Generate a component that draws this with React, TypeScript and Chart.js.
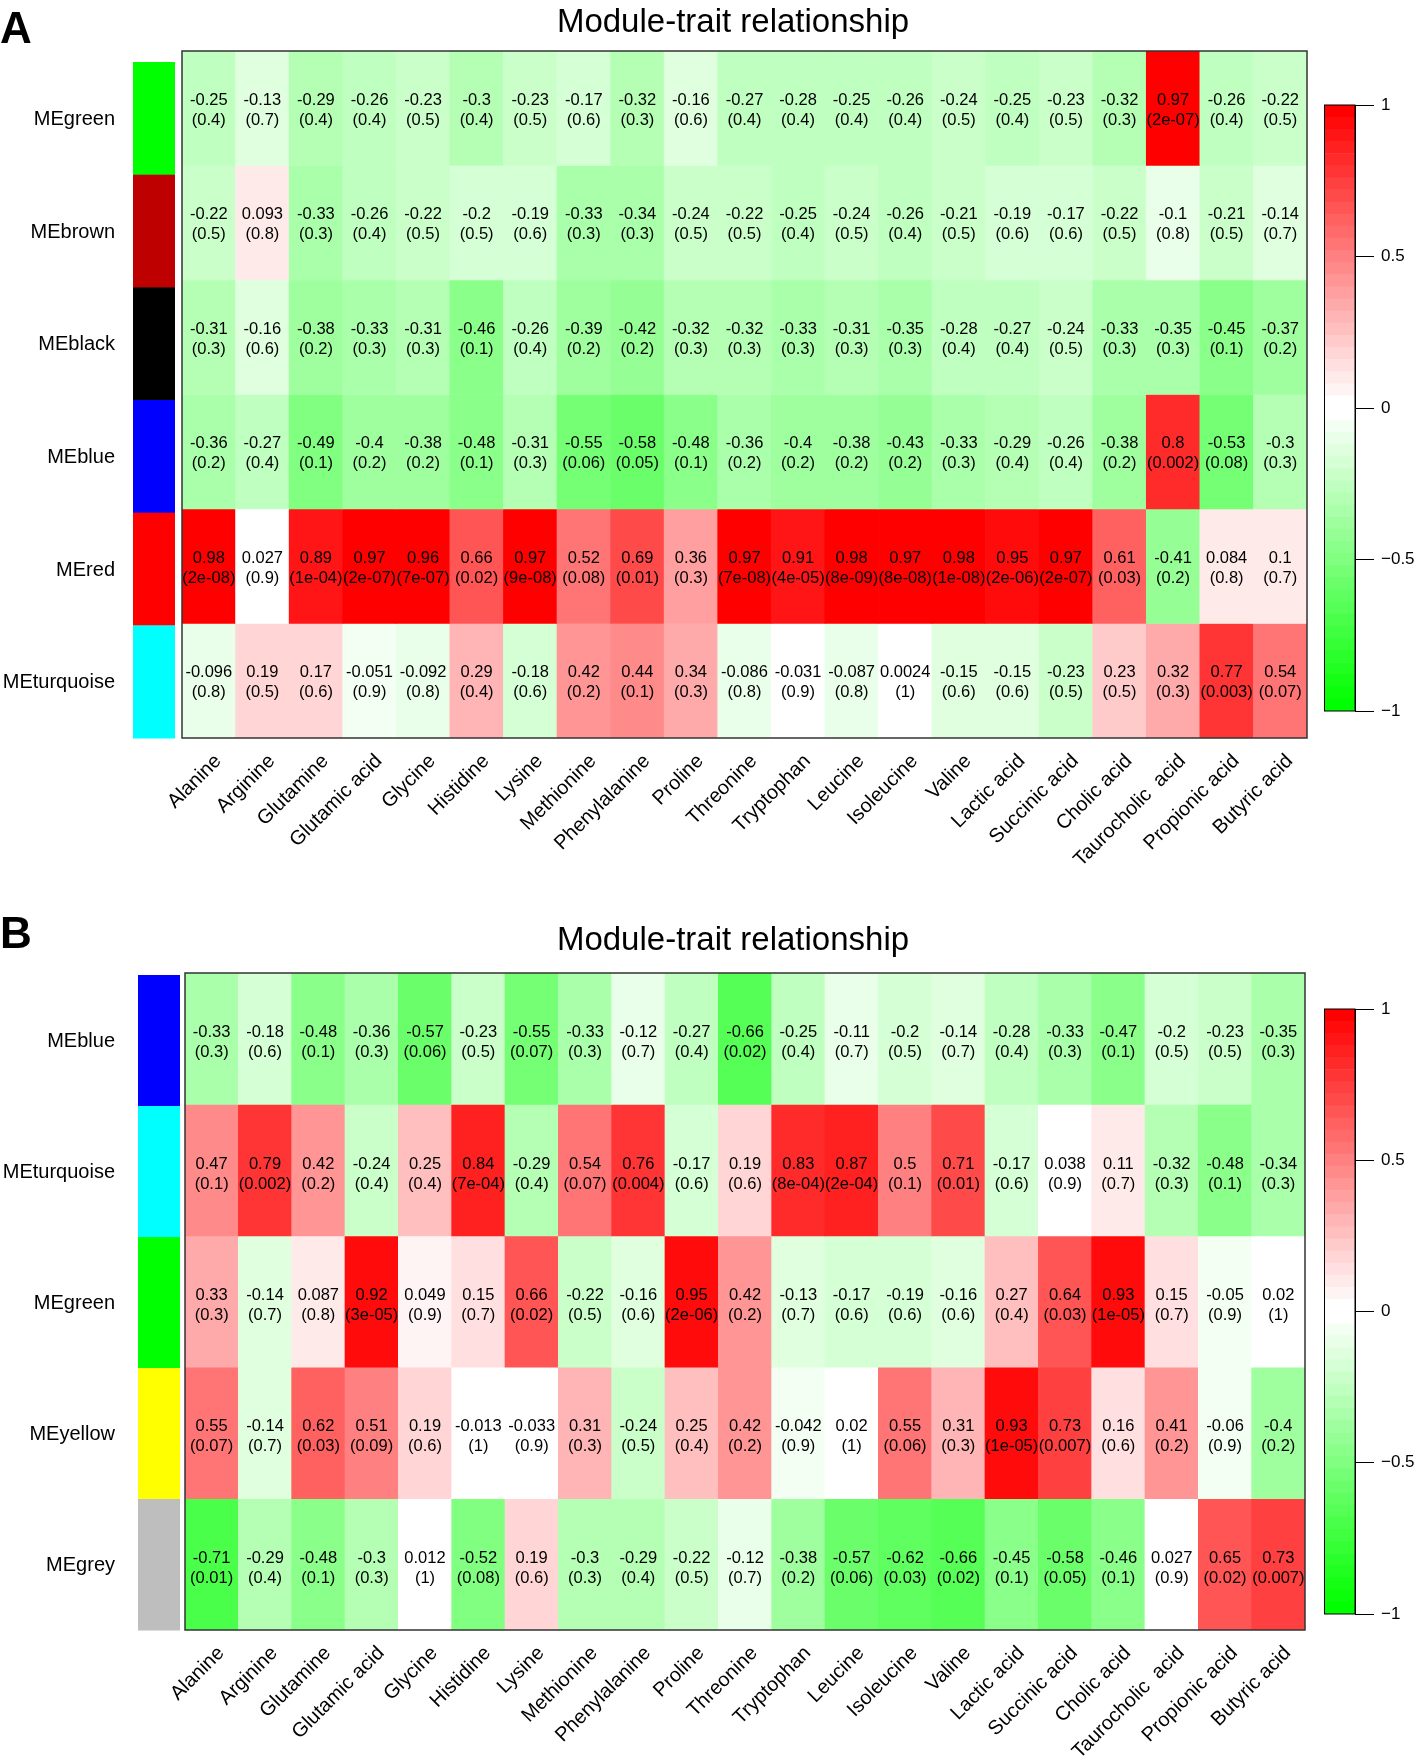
import React, { useEffect, useRef } from "react";
import { Chart, registerables } from "chart.js";

Chart.register(...registerables);

const FONT = "'Liberation Sans', Arial, Helvetica, sans-serif";

// ---------- data ----------
const traits = [
  "Alanine", "Arginine", "Glutamine", "Glutamic acid", "Glycine", "Histidine", "Lysine",
  "Methionine", "Phenylalanine", "Proline", "Threonine", "Tryptophan", "Leucine", "Isoleucine",
  "Valine", "Lactic acid", "Succinic acid", "Cholic acid", "Taurocholic  acid", "Propionic acid",
  "Butyric acid",
];

const titleText = "Module-trait relationship";
const colorbarTicks = [1, 0.5, 0, -0.5, -1];

// Panel A
const modulesA = ["MEgreen", "MEbrown", "MEblack", "MEblue", "MEred", "MEturquoise"];
const moduleColorsA = ["#00FF00", "#BE0000", "#000000", "#0000FF", "#FF0000", "#00FFFF"];

const corA_green = [-0.25, -0.13, -0.29, -0.26, -0.23, -0.3, -0.23, -0.17, -0.32, -0.16, -0.27, -0.28, -0.25, -0.26, -0.24, -0.25, -0.23, -0.32, 0.97, -0.26, -0.22];
const pA_green = [0.4, 0.7, 0.4, 0.4, 0.5, 0.4, 0.5, 0.6, 0.3, 0.6, 0.4, 0.4, 0.4, 0.4, 0.5, 0.4, 0.5, 0.3, 2e-07, 0.4, 0.5];
const corA_brown = [-0.22, 0.093, -0.33, -0.26, -0.22, -0.2, -0.19, -0.33, -0.34, -0.24, -0.22, -0.25, -0.24, -0.26, -0.21, -0.19, -0.17, -0.22, -0.1, -0.21, -0.14];
const pA_brown = [0.5, 0.8, 0.3, 0.4, 0.5, 0.5, 0.6, 0.3, 0.3, 0.5, 0.5, 0.4, 0.5, 0.4, 0.5, 0.6, 0.6, 0.5, 0.8, 0.5, 0.7];
const corA_black = [-0.31, -0.16, -0.38, -0.33, -0.31, -0.46, -0.26, -0.39, -0.42, -0.32, -0.32, -0.33, -0.31, -0.35, -0.28, -0.27, -0.24, -0.33, -0.35, -0.45, -0.37];
const pA_black = [0.3, 0.6, 0.2, 0.3, 0.3, 0.1, 0.4, 0.2, 0.2, 0.3, 0.3, 0.3, 0.3, 0.3, 0.4, 0.4, 0.5, 0.3, 0.3, 0.1, 0.2];
const corA_blue = [-0.36, -0.27, -0.49, -0.4, -0.38, -0.48, -0.31, -0.55, -0.58, -0.48, -0.36, -0.4, -0.38, -0.43, -0.33, -0.29, -0.26, -0.38, 0.8, -0.53, -0.3];
const pA_blue = [0.2, 0.4, 0.1, 0.2, 0.2, 0.1, 0.3, 0.06, 0.05, 0.1, 0.2, 0.2, 0.2, 0.2, 0.3, 0.4, 0.4, 0.2, 0.002, 0.08, 0.3];
const corA_red = [0.98, 0.027, 0.89, 0.97, 0.96, 0.66, 0.97, 0.52, 0.69, 0.36, 0.97, 0.91, 0.98, 0.97, 0.98, 0.95, 0.97, 0.61, -0.41, 0.084, 0.1];
const pA_red = [2e-08, 0.9, 1e-04, 2e-07, 7e-07, 0.02, 9e-08, 0.08, 0.01, 0.3, 7e-08, 4e-05, 8e-09, 8e-08, 1e-08, 2e-06, 2e-07, 0.03, 0.2, 0.8, 0.7];
const corA_turquoise = [-0.096, 0.19, 0.17, -0.051, -0.092, 0.29, -0.18, 0.42, 0.44, 0.34, -0.086, -0.031, -0.087, 0.0024, -0.15, -0.15, -0.23, 0.23, 0.32, 0.77, 0.54];
const pA_turquoise = [0.8, 0.5, 0.6, 0.9, 0.8, 0.4, 0.6, 0.2, 0.1, 0.3, 0.8, 0.9, 0.8, 1, 0.6, 0.6, 0.5, 0.5, 0.3, 0.003, 0.07];

// Panel B
const modulesB = ["MEblue", "MEturquoise", "MEgreen", "MEyellow", "MEgrey"];
const moduleColorsB = ["#0000FF", "#00FFFF", "#00FF00", "#FFFF00", "#BEBEBE"];

const corB_blue = [-0.33, -0.18, -0.48, -0.36, -0.57, -0.23, -0.55, -0.33, -0.12, -0.27, -0.66, -0.25, -0.11, -0.2, -0.14, -0.28, -0.33, -0.47, -0.2, -0.23, -0.35];
const pB_blue = [0.3, 0.6, 0.1, 0.3, 0.06, 0.5, 0.07, 0.3, 0.7, 0.4, 0.02, 0.4, 0.7, 0.5, 0.7, 0.4, 0.3, 0.1, 0.5, 0.5, 0.3];
const corB_turquoise = [0.47, 0.79, 0.42, -0.24, 0.25, 0.84, -0.29, 0.54, 0.76, -0.17, 0.19, 0.83, 0.87, 0.5, 0.71, -0.17, 0.038, 0.11, -0.32, -0.48, -0.34];
const pB_turquoise = [0.1, 0.002, 0.2, 0.4, 0.4, 7e-04, 0.4, 0.07, 0.004, 0.6, 0.6, 8e-04, 2e-04, 0.1, 0.01, 0.6, 0.9, 0.7, 0.3, 0.1, 0.3];
const corB_green = [0.33, -0.14, 0.087, 0.92, 0.049, 0.15, 0.66, -0.22, -0.16, 0.95, 0.42, -0.13, -0.17, -0.19, -0.16, 0.27, 0.64, 0.93, 0.15, -0.05, 0.02];
const pB_green = [0.3, 0.7, 0.8, 3e-05, 0.9, 0.7, 0.02, 0.5, 0.6, 2e-06, 0.2, 0.7, 0.6, 0.6, 0.6, 0.4, 0.03, 1e-05, 0.7, 0.9, 1];
const corB_yellow = [0.55, -0.14, 0.62, 0.51, 0.19, -0.013, -0.033, 0.31, -0.24, 0.25, 0.42, -0.042, 0.02, 0.55, 0.31, 0.93, 0.73, 0.16, 0.41, -0.06, -0.4];
const pB_yellow = [0.07, 0.7, 0.03, 0.09, 0.6, 1, 0.9, 0.3, 0.5, 0.4, 0.2, 0.9, 1, 0.06, 0.3, 1e-05, 0.007, 0.6, 0.2, 0.9, 0.2];
const corB_grey = [-0.71, -0.29, -0.48, -0.3, 0.012, -0.52, 0.19, -0.3, -0.29, -0.22, -0.12, -0.38, -0.57, -0.62, -0.66, -0.45, -0.58, -0.46, 0.027, 0.65, 0.73];
const pB_grey = [0.01, 0.4, 0.1, 0.3, 1, 0.08, 0.6, 0.3, 0.4, 0.5, 0.7, 0.2, 0.06, 0.03, 0.02, 0.1, 0.05, 0.1, 0.9, 0.02, 0.007];

// ---------- palette (greenWhiteRed, 50 colours over [-1, 1]) ----------
const NCOL = 50;
const HALF = 25;
function paletteColor(i: number): string {
  if (i < HALF) {
    const t = i / (HALF - 1);
    const c = Math.round(255 * t);
    return `rgb(${c},255,${c})`;
  }
  const t = (i - HALF) / (HALF - 1);
  const c = Math.round(255 * (1 - t));
  return `rgb(255,${c},${c})`;
}
function corColor(v: number): string {
  let bin = Math.floor(((v + 1) / 2) * NCOL);
  if (bin < 0) bin = 0;
  if (bin > NCOL - 1) bin = NCOL - 1;
  return paletteColor(bin);
}
function fmtCor(v: number): string {
  return String(v);
}
function fmtP(p: number): string {
  if (p < 0.001) {
    const s = p.toExponential(0); // e.g. 2e-7
    const m = s.match(/^(\d)e([+-])(\d+)$/);
    if (m) return `${m[1]}e${m[2]}${m[3].padStart(2, "0")}`;
    return s;
  }
  return String(p);
}
function fmtTick(v: number): string {
  return v < 0 ? "\u2212" + String(-v) : String(v);
}

type Row = { name: string; color: string; cor: number[]; p: number[] };

const rowsA: Row[] = [
  { name: modulesA[0], color: moduleColorsA[0], cor: corA_green, p: pA_green },
  { name: modulesA[1], color: moduleColorsA[1], cor: corA_brown, p: pA_brown },
  { name: modulesA[2], color: moduleColorsA[2], cor: corA_black, p: pA_black },
  { name: modulesA[3], color: moduleColorsA[3], cor: corA_blue, p: pA_blue },
  { name: modulesA[4], color: moduleColorsA[4], cor: corA_red, p: pA_red },
  { name: modulesA[5], color: moduleColorsA[5], cor: corA_turquoise, p: pA_turquoise },
];
const rowsB: Row[] = [
  { name: modulesB[0], color: moduleColorsB[0], cor: corB_blue, p: pB_blue },
  { name: modulesB[1], color: moduleColorsB[1], cor: corB_turquoise, p: pB_turquoise },
  { name: modulesB[2], color: moduleColorsB[2], cor: corB_green, p: pB_green },
  { name: modulesB[3], color: moduleColorsB[3], cor: corB_yellow, p: pB_yellow },
  { name: modulesB[4], color: moduleColorsB[4], cor: corB_grey, p: pB_grey },
];

type PanelCfg = {
  letter: string;
  rows: Row[];
  height: number;
  padding: { left: number; right: number; top: number; bottom: number };
  letterBaseline: number;
  titleBaseline: number;
  titleX: number;
  barX: [number, number];
  barTopOffset: number;
  labelRight: number;
  line1: number;
  line2: number;
};

const panelA: PanelCfg = {
  letter: "A",
  rows: rowsA,
  height: 880,
  padding: { left: 182, right: 115, top: 51, bottom: 142 },
  letterBaseline: 43,
  titleBaseline: 32,
  titleX: 733,
  barX: [133, 175],
  barTopOffset: 11,
  labelRight: 115,
  line1: -8,
  line2: 12,
};
const panelB: PanelCfg = {
  letter: "B",
  rows: rowsB,
  height: 884,
  padding: { left: 185, right: 117, top: 93, bottom: 134 },
  letterBaseline: 68,
  titleBaseline: 70,
  titleX: 733,
  barX: [138, 180],
  barTopOffset: 2,
  labelRight: 115,
  line1: -6,
  line2: 14,
};

function makeHeatmap(canvas: HTMLCanvasElement, cfg: PanelCfg): Chart {
  const overlay = {
    id: "heatOverlay",
    afterDatasetsDraw(chart: any) {
      const { ctx, chartArea } = chart;
      const x = chart.scales.x;
      const y = chart.scales.y;
      ctx.save();
      // border
      ctx.strokeStyle = "#333";
      ctx.lineWidth = 1.5;
      ctx.strokeRect(chartArea.left, chartArea.top, chartArea.right - chartArea.left, chartArea.bottom - chartArea.top);

      // cell texts
      ctx.fillStyle = "#000";
      ctx.font = `16.5px ${FONT}`;
      ctx.textAlign = "center";
      ctx.textBaseline = "middle";
      cfg.rows.forEach((row, r) => {
        const yc = y.getPixelForValue(r + 0.5);
        row.cor.forEach((v, c) => {
          const xc = x.getPixelForValue(c);
          ctx.fillText(fmtCor(v), xc, yc + cfg.line1);
          ctx.fillText("(" + fmtP(row.p[c]) + ")", xc, yc + cfg.line2);
        });
      });

      // module colour bars and labels
      const barTop = chartArea.top + cfg.barTopOffset;
      const barBottom = chartArea.bottom;
      const segH = (barBottom - barTop) / cfg.rows.length;
      ctx.font = `20px ${FONT}`;
      ctx.textAlign = "right";
      cfg.rows.forEach((row, r) => {
        const t = barTop + r * segH;
        ctx.fillStyle = row.color;
        ctx.fillRect(cfg.barX[0], t, cfg.barX[1] - cfg.barX[0], segH + 0.5);
        ctx.fillStyle = "#000";
        ctx.fillText(row.name, cfg.labelRight, t + segH / 2 + 1);
      });

      // x labels rotated 45°
      ctx.font = `20px ${FONT}`;
      ctx.textAlign = "right";
      ctx.textBaseline = "middle";
      traits.forEach((t, c) => {
        const xc = x.getPixelForValue(c);
        ctx.save();
        ctx.translate(xc + 9.5, chartArea.bottom + 20);
        ctx.rotate(-Math.PI / 4);
        ctx.fillText(t, 0, 0);
        ctx.restore();
      });

      // title
      ctx.textAlign = "center";
      ctx.textBaseline = "alphabetic";
      ctx.font = `33px ${FONT}`;
      ctx.fillText(titleText, cfg.titleX, cfg.titleBaseline);

      // panel letter
      ctx.textAlign = "left";
      ctx.font = `bold 44px ${FONT}`;
      ctx.fillText(cfg.letter, 0, cfg.letterBaseline);
      ctx.restore();
    },
  };

  return new Chart(canvas, {
    type: "bar",
    data: {
      labels: traits,
      datasets: cfg.rows.map((row, r) => ({
        label: row.name,
        data: row.cor.map(() => [r, r + 1]) as any,
        backgroundColor: row.cor.map(corColor),
        borderWidth: 0,
        barPercentage: 1,
        categoryPercentage: 1,
        grouped: false,
      })),
    },
    options: {
      responsive: false,
      maintainAspectRatio: false,
      animation: false,
      events: [],
      layout: { padding: cfg.padding },
      plugins: { legend: { display: false }, tooltip: { enabled: false }, title: { display: false } },
      scales: {
        x: { type: "category", display: false, offset: true, grid: { display: false } },
        y: { type: "linear", display: false, min: 0, max: cfg.rows.length, reverse: true },
      },
    } as any,
    plugins: [overlay],
  });
}

function makeColorbar(canvas: HTMLCanvasElement): Chart {
  const bands = Array.from({ length: NCOL }, (_, i) => i);
  const boxPlugin = {
    id: "cbBox",
    afterDatasetsDraw(chart: any) {
      const { ctx, chartArea } = chart;
      ctx.save();
      ctx.strokeStyle = "#000";
      ctx.lineWidth = 1;
      ctx.strokeRect(chartArea.left + 0.5, chartArea.top, chartArea.right - chartArea.left - 0.5, chartArea.bottom - chartArea.top);
      ctx.restore();
    },
  };
  return new Chart(canvas, {
    type: "bar",
    data: {
      labels: [""],
      datasets: bands.map((i) => ({
        data: [[-1 + (2 * i) / NCOL, -1 + (2 * (i + 1)) / NCOL]] as any,
        backgroundColor: paletteColor(i),
        borderWidth: 0,
        barPercentage: 1,
        categoryPercentage: 1,
        grouped: false,
      })),
    },
    options: {
      responsive: false,
      maintainAspectRatio: false,
      animation: false,
      events: [],
      layout: { padding: { left: 20, right: 0, top: 20, bottom: 20 } },
      plugins: { legend: { display: false }, tooltip: { enabled: false } },
      scales: {
        x: { display: false, offset: true },
        y: {
          type: "linear",
          position: "right",
          min: -1,
          max: 1,
          afterBuildTicks: (s: any) => {
            s.ticks = colorbarTicks.map((v) => ({ value: v }));
          },
          afterFit: (s: any) => {
            s.width = 67;
          },
          ticks: {
            callback: (v: any) => fmtTick(Number(v)),
            font: { size: 17, family: FONT },
            color: "#000",
            padding: 7,
          },
          grid: { drawOnChartArea: false, drawTicks: true, tickLength: 19, color: "#000", lineWidth: 1 },
          border: { display: true, color: "#000", width: 1 },
        },
      },
    } as any,
    plugins: [boxPlugin],
  });
}

export default function App() {
  const aRef = useRef<HTMLCanvasElement>(null);
  const bRef = useRef<HTMLCanvasElement>(null);
  const cbARef = useRef<HTMLCanvasElement>(null);
  const cbBRef = useRef<HTMLCanvasElement>(null);

  useEffect(() => {
    const charts: Chart[] = [];
    if (aRef.current) charts.push(makeHeatmap(aRef.current, panelA));
    if (bRef.current) charts.push(makeHeatmap(bRef.current, panelB));
    if (cbARef.current) charts.push(makeColorbar(cbARef.current));
    if (cbBRef.current) charts.push(makeColorbar(cbBRef.current));
    return () => charts.forEach((c) => c.destroy());
  }, []);

  return (
    <div style={{ position: "absolute", left: 0, top: 0, width: 1422, height: 1764, background: "#fff", overflow: "hidden" }}>
      <canvas ref={aRef} width={1422} height={880} style={{ position: "absolute", left: 0, top: 0 }} />
      <canvas ref={bRef} width={1422} height={884} style={{ position: "absolute", left: 0, top: 880 }} />
      <canvas ref={cbARef} width={118} height={646} style={{ position: "absolute", left: 1304, top: 85 }} />
      <canvas ref={cbBRef} width={118} height={645} style={{ position: "absolute", left: 1304, top: 989 }} />
    </div>
  );
}
